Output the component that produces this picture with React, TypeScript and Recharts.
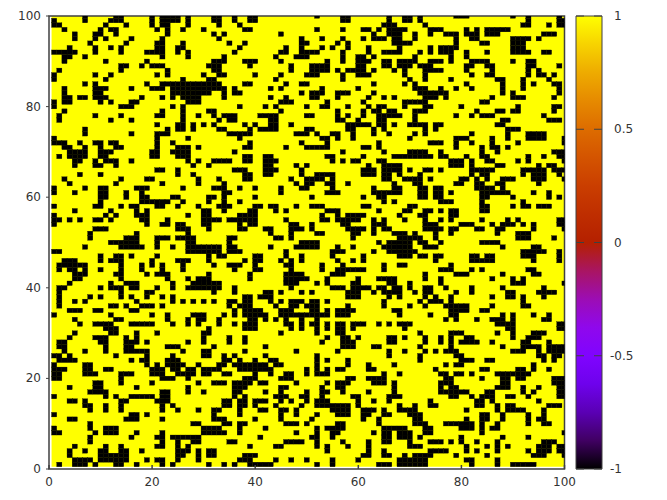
import { ScatterChart, Scatter, XAxis, YAxis, ReferenceArea } from "recharts"

// black cells per row, top row (y = 100) first, columns 1..100
const blackRuns = [
  "7 13-14 20 22-25 27 32-33 36 39-40 52 57-58 66 69-70 72 79-81 90 93 99",
  "1 7 12-14 20 22-25 27 32-33 36 39-40 57-58 66 69-70 72 93 99-100",
  "1-2 11 15 20 22-23 27 33 37 65-67 73 92-93 97 99-100",
  "3 10 12-13 21 23 26 30 38-39 52 57 61-62 64 66 67-69 74-76 81 83 85-89",
  "5 9-10 13 23 32 34 45 63 66 67-68 71 74 77-79 81-83 85-87 96-98",
  "5 9 11 16 22 33 49 53 57 61 63-65 67-68 71 79 82-83 90-92 93 95",
  "8 15 21-22 26 35 38 49-50 56 58 67-69 70 79 84-85 90-92",
  "4 9 12 14 21-22 25-26 37 46 49 53 55 58 62 68 74 76-79 90-92",
  "1-5 9 14 19-21 22 25 27 36 45-46 49-52 57 62 65-67 68 72 74 76-78 81 85 90-93 96-97",
  "3-4 7 22 27 34 44 48-50 57 60-61 63 71 78 81",
  "3 11 19 32-33 34 38-40 45 54 57 60-62 65-66 68-71 74-76 78 82-85 90 93-94",
  "14-15 18 20-22 31-33 39 47 51-54 60-61 65-66 68-70 72-74 81-82 85-86 93-94 99",
  "2 14 23 32-33 47 51-54 56 58-61 63 67 69 73-76 81 86 93 95",
  "1 9 12 21 23 30 33 34 40 45 50-52 57 60-62 69 73 82 85-86 93 95-96 98",
  "1 11 26 31-32 44 57 70 73 78 87-88 92 97",
  "7 9 19 22-33 38-39 46 49-50 63 69 71 81 88 92 94 98-99",
  "3 9-11 16 20-22 24-33 34 36 43 45 53 60 71-73 76 79 82 88 92 99",
  "3 9-10 24-25 26-31 34 36-37 49 51-53 56-58 63 72-75 76-77 88 90 99",
  "3-4 6-7 9-11 18 22 24 26-28 29 34 43 46 51-52 56 62 65 67 73-75 77 86 90-92 98",
  "1 3-4 10 12 16-17 27-29 45-47 54 61 69-73 84-85",
  "1 14-16 24 26 37 42 44 50 53-54 58 62 64-65 69 73-74 80 91 98-99",
  "3 22 26 31-32 45 56 61 63-64 66-67 71-73 83 87-88 90-91 98",
  "2 9 14 21-22 26 29 32 34-36 41-44 50-51 56 58 61 64-67 67-68 71 79 82 84-86 96",
  "2 12 16 26 33 35-36 43-44 56-57 60 64-65 71 88-89 97-99",
  "21 25-26 28 30 32 38 40 43-44 47 58-62 64-65 67 70-73 75-76 87-88",
  "7 23 25-26 28 33 34 39 41-44 50-51 58-59 63 65 73 75 89-91",
  "7 16 21-23 35-39 48-50 52 55-56 59 63 66 71 73 82 89 93-96",
  "1 21 27 37 53-54 56 59 70 79-81 86 89 93-96 100",
  "1-3 6 9-10 12-13 21 24 39 49 54 64 74-76 79 82 86 91 100",
  "3-4 7 10 13-14 21 25-27 29 38-39 46 50-52 53-54 61-62 64 79 84 86-87 89",
  "4-7 10-12 20-21 24-27 36 57 65 70-73 76 84 87 98-100",
  "2 4-7 10-11 20-21 25-27 38-39 42-43 54-55 61 67 68-74 76-77 81 84-85 93 96 99-100",
  "5-6 9 11-13 16 27 29 32-33 34-35 38-39 42-44 55 57 59-60 64 65 78-80 82 85-86 91 93 100",
  "5 9-10 13 28 31 42-43 48 50 62 65-67 67-68 78-80 82 87-88 95 97-98",
  "21-22 25 36-38 42-44 49 61-63 65-66 67-68 70 73-74 76 82-86 92 93-96 98-100",
  "6 10 25 28 38-39 42-43 49 52-55 61-63 65-66 68 72 82 84-85 92 94-96 99",
  "3 14 19-20 29 33 38-39 47 50-53 55 65-66 69-72 74 80-81 83 85 88-90 94-96 100",
  "4 13 22 29 34 48 50-51 54-55 58 67 71-72 79-80 83-84 87-88 95",
  "1 7 10-11 17-19 26 32-33 34 37 40 45 49-50 55 63 67-68 72-73 75-76 83-86 88",
  "1 5 10-11 15 18 34-35 45 54-56 63-67 67-68 72-73 75-76 78 84-86 87-89 94 97",
  "10-11 15 18-19 24-25 31-32 34 40 51 61 64-65 72-73 75-76 84-85 90 97 99",
  "10 18-23 26 31 34 37 65 67 76-78 84 92",
  "1 9-10 14 16-17 21-22 25 29 33 34-35 40-41 43-44 48 51-53 61-62 70-71 84-85 90 92-93 95-97",
  "5 12 17 19 30-31 34 39-40 44 46 54-56 64 69-70 73-74 76 78-79 84-85",
  "1 11 13 17-19 27 30-31 37-40 53 56 58-61 68 72-73 78-79",
  "1-2 4 6 9-10 12 18-19 23 30-33 35-37 38-40 46 53-54 56-60 63 65 69 73 76 78 84 89 91 99-100",
  "1 19 22-23 25-26 30-31 37 39-40 47-48 51 57-58 63-65 73-75 80 81-82 86 88-90 92 94 99-100",
  "9-11 25-27 31 37-38 42-43 47-49 51 58 59-61 63 65-66 73-76 78-79 83-84 87-88 94 100",
  "8 17 27 43 47 52-53 59-60 63 67-69 71 75 78 87 91-93",
  "8 15-17 21-23 25-28 35-36 44-45 47 59 68-72 75 91-93 98",
  "12-17 21 27-28 35 49-52 64 66-67 67-70 72-73 76 84-85 86-87",
  "7 14-18 21 24 27-33 35-36 43 48-52 56 59 65-67 67-70 73-75 88 94-95",
  "1-2 27-29 30-33 35-37 46 55-57 63 66-67 67-71 92-96 99",
  "10 13-14 16 21 31 33 34 40-41 46 49 55 61 68-70 72-73 75-76 82-83 85-86 92-94 99",
  "3-5 10 12-14 20 25-27 31 38 40-41 45 47 49 56 59 61 75 82-84 85-86 94 99",
  "2-7 14 18 20 22 26 32 35-37 40 46-47 53 57 65 68-69 78",
  "2 4-5 7 10 14 18 22 26 36 40-41 47 53 56-58 59-61 65 76-78 82 84 93-94",
  "5-7 13-14 19 21-23 31 39 46-49 55-57 73 79-81 88 94-95",
  "5-6 14 23 27 29-31 39 46-50 54 60 64-66 67 73 76 86 90 92",
  "4 12 15-17 24 28-33 46-48 52 54 59-60 66-67 67 70 76 90-92 100",
  "2-3 10 12-14 16-17 21 24 27-29 30-33 36 47 55-57 59-62 64-65 67 68 70 73-74 77 82 88 96",
  "2 14 19-20 32 36 42-43 45 49 51 58-59 60 63 65-67 67-68 71 73-74 79 82 89-90 95-98",
  "2 8 10 14 16 19 22 24 38-39 41-43 58-60 66 68 73 75 78 86 89-90 92 96",
  "2 5 7 17 24 26 28 30 32 35-36 38-39 43 45 47-49 51-52 54 65 72 74-76 78 92",
  "2 12-13 15 18-20 22 35 37-39 44 47-48 50-52 58 65 70 73 77 78-81 86 92-93",
  "4-6 9-10 16-17 36 38-41 45-47 51-52 54 56-59 67-68 78-81 84-85",
  "1 12 20 23 28-30 34 36 38-42 45-50 51-52 53-54 56-58 68 74 78-79 88 90 94 97",
  "5 13-14 23 27 29-30 33 39-40 42 44 46 49 52 77 79 83 86-88 90 96-97",
  "6 9-12 16-20 24 27 29 33 36 38-40 46-47 49 51-52 54 56-57 59-61 64 66 68-70 87-88 89-90 99-100",
  "11-13 31 38-40 47 49 52 54 56-57 59 69 89-90 99-100",
  "5 12-13 17 21 30-31 45 52 56-57 72 78-80 87 90 94-96",
  "4 9-11 15 17 30 35 38 54 57-58 60 66-67 69 73 76 78 81-82 90 93-95",
  "2-3 10-11 15-17 19 27 30 35 38 53 57-59 66-67 67 73 76 78 80-83 86 92-93 97",
  "2-3 11 15-16 23-25 32 42 57-59 63-64 72 78 88 92-95 97-100",
  "3 7 11 15-19 26 30-31 38 48 56 66 69 73 75 77-79 90-92 95 97-100",
  "1-2 4 13 19 24 30-31 34 36 42 52 66 72 79-80 95-96 98-99",
  "2-5 16 18-19 23-25 34-35 37 40 43-44 52 54 58 72 80-82 85-86 96 98",
  "1 7-8 19 21 23-26 29 33 34 36-37 38-42 44-45 52 58 62 67 77 79-80 94",
  "1-3 7-8 11-12 20-22 24-25 27-28 30-33 37-41 42-43 50 52 54 56-57 62-63 75 84-85 91-92 94 97",
  "1-2 7-9 14-16 20-22 25-28 30-31 34-35 40 43 46-47 50 52-54 65 68 76-77 79-80 82 87-93",
  "1-2 14 22-24 27 38-40 45-47 58-59 62-65 77-78 84 88-89 91-92 98-100",
  "9-10 14 20 29 32-33 34 36-39 41-42 48 54 56-58 63-65 67 76-78 88-89 98-100",
  "4 9-10 17 27 36-38 45-46 53 56-57 67 76 78-79 87-89 92 95 99-100",
  "8-11 22-23 27 30 36-37 42 45 50 53-54 57 62 67 76-81 85-86 92 94 99-100",
  "1 11 13 16-20 22-23 36 38 44-46 49-50 53 59-60 66 67-68 78-79 82 84-86 89-90 93 99-100",
  "4-5 7 14-15 21-23 34-35 37-38 40-42 45 47 50 52-54 60 63 66 74 83-84 86 95",
  "7-8 11 14 22 24 34-35 37-38 40 44 49 52-58 60 68 71 74-75 83-84 87 89-90 97-99",
  "8 11 14 22 25 29 32-33 37 41-42 45-46 48 55-58 61-63 65 68-71 81 87 89-91 92 96",
  "1 16-17 19 32 37 45 48 52 56-58 61-62 65-66 70-72 84-85 88 93 96",
  "4-5 15-17 22 32-33 34 40 45 51 61 64 71-72 81 84-85 88 93 95-96",
  "8 28-29 34-35 37-38 46-48 50 56-57 64 71-73 77 78-82 84 87 93 96-97",
  "1 8 11-13 30-33 37 42 52 54-57 65-67 67-69 73-74 80-82 84 86-87",
  "1-2 9 11-13 17 22 30-33 34 37 48 52 55-56 63 65-66 68-70 73-74 84 100",
  "8 16 21-22 24-29 41 51-52 55 65-66 68-70 72 80 88 93",
  "8 22 25 28-29 35-36 46-49 52 57 62 65-66 70 74-76 78 80 83 87 96-98",
  "5 11 14 21-22 25 27 39 44-45 52 54 58 62 70-72 81 85 87 89 95-97 99-100",
  "4 7 10-11 14-15 18 25-27 29 31-32 54 62 65 74-77 81 83 87 93 95-97 99-100",
  "4 10-15 25-26 29 31-32 38-40 61-62 65-66 69 71-74 79 85 94-96 100",
  "5-8 10-15 19 21-22 25 29 37-39 44 47 50 55 60 68-73 81-82 87",
  "2 5-7 9 13-14 17 22 24 31 34 36 39-43 52 55 64-66 68-73 82 87 90-94",
]

const xyTicks = [0, 20, 40, 60, 80, 100]
const barTicks = [-1, -0.5, 0, 0.5, 1]
const barRange = [{ x: 0, y: -1 }, { x: 1, y: 1 }]

// gnuplot's default pm3d palette, bottom to top
const paletteStops = [
  "#000000", "#400062", "#5a00b4", "#6e02ec", "#8004ff", "#8f08ec", "#9c0db4", "#a91562",
  "#b42000", "#bf2e00", "#ca3e00", "#d45400", "#dd6c00", "#e68a00", "#eeab00", "#f7d300", "#ffff00",
]

const FONT = "'DejaVu Sans'"
const TEXT = "#333333"
const AXIS = "#404040"

// Builds the list of black cells from the per-row runs
function buildCells() {
  const cells: { x: number; y: number; value: number }[] = []
  blackRuns.forEach((row, i) => {
    const seen = new Set<number>()
    row.split(" ").forEach((run) => {
      const [from, to] = run.split("-").map(Number)
      for (let k = from; k <= (to ?? from); k++) seen.add(k)
    })
    seen.forEach((k) => cells.push({ x: k, y: 100 - i, value: -1 }))
  })
  return cells
}

const cells = buildCells()

// small stroke closes the antialiasing seams between neighbouring cells
function Cell(props: any) {
  const w = 5.155
  const h = 4.53
  return (
    <rect
      x={props.cx - w / 2}
      y={props.cy - h / 2}
      width={w}
      height={h}
      fill="#000000"
      stroke="#000000"
      strokeWidth={0.3}
    />
  )
}

function XTick({ x, y, payload }: any) {
  return (
    <g>
      <line x1={x} x2={x} y1={469} y2={465} stroke={AXIS} strokeWidth={1.5} />
      <text x={x} y={y} dy={9} textAnchor="middle" fontFamily={FONT} fontSize={12} fill={TEXT}>
        {payload.value}
      </text>
    </g>
  )
}

function YTick({ x, y, payload }: any) {
  return (
    <g>
      <line x1={49} x2={46} y1={y} y2={y} stroke={AXIS} strokeWidth={1} />
      <text x={x} y={y} dy={4} textAnchor="end" fontFamily={FONT} fontSize={12} fill={TEXT}>
        {payload.value}
      </text>
    </g>
  )
}

function BarTick({ y, payload }: any) {
  const v = payload.value
  return (
    <g>
      <line x1={576} x2={584} y1={y} y2={y} stroke={AXIS} strokeWidth={1} />
      <line x1={594} x2={602} y1={y} y2={y} stroke={AXIS} strokeWidth={1} />
      <text x={v < 0 ? 610 : 614} y={y} dy={4} textAnchor="start" fontFamily={FONT} fontSize={12} fill={TEXT}>
        {v}
      </text>
    </g>
  )
}

export default function App() {
  return (
    <div style={{ position: "absolute", left: 0, top: 0, width: 667, height: 500, background: "#fff" }}>
      <div style={{ position: "absolute", left: 0, top: 0 }}>
        <ScatterChart width={667} height={500} margin={{ top: 16, right: 102.5, bottom: 0, left: 0 }}>
          <XAxis
            type="number"
            dataKey="x"
            domain={[0, 100]}
            ticks={xyTicks}
            height={31}
            allowDataOverflow
            axisLine={false}
            tickLine={false}
            tick={<XTick />}
          />
          <YAxis
            type="number"
            dataKey="y"
            domain={[0, 100]}
            ticks={xyTicks}
            width={49}
            allowDataOverflow
            axisLine={false}
            tickLine={false}
            tick={<YTick />}
          />
          <ReferenceArea x1={0.5} x2={100} y1={0.5} y2={100} fill="#ffff00" fillOpacity={1} stroke="none" />
          <Scatter data={cells} shape={<Cell />} isAnimationActive={false} />
          <ReferenceArea
            x1={0}
            x2={100}
            y1={0}
            y2={100}
            fill="none"
            stroke={AXIS}
            strokeWidth={1.5}
            ifOverflow="visible"
          />
        </ScatterChart>
      </div>
      <div style={{ position: "absolute", left: 0, top: 0 }}>
        <ScatterChart width={667} height={500} margin={{ top: 16, right: 0, bottom: 31, left: 576 }}>
          <defs>
            <linearGradient id="palette" x1="0" y1="1" x2="0" y2="0">
              {paletteStops.map((c, i) => (
                <stop key={c} offset={i / (paletteStops.length - 1)} stopColor={c} />
              ))}
            </linearGradient>
          </defs>
          <XAxis type="number" dataKey="x" domain={[0, 1]} hide />
          <YAxis
            type="number"
            dataKey="y"
            orientation="right"
            domain={[-1, 1]}
            ticks={barTicks}
            width={65}
            axisLine={false}
            tickLine={false}
            tick={<BarTick />}
          />
          <ReferenceArea x1={0} x2={1} y1={-1} y2={1} fill="url(#palette)" fillOpacity={1} stroke={AXIS} strokeWidth={1} />
          <Scatter data={barRange} shape={() => null} isAnimationActive={false} />
        </ScatterChart>
      </div>
    </div>
  )
}
